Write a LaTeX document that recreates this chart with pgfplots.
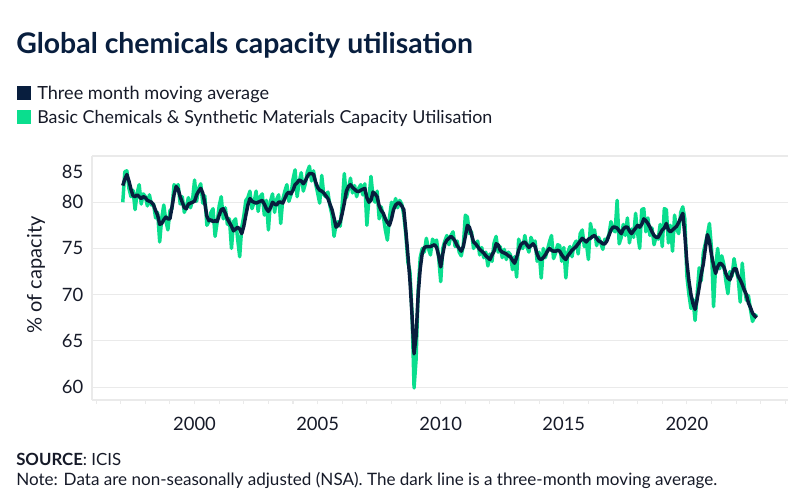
\documentclass[border=0pt]{standalone}
\usepackage{pgfplots}
\pgfplotsset{compat=1.18}
\usepackage{pgfplotstable}
\usepackage{fontspec}
\setmainfont{Lato}
\definecolor{navy}{RGB}{8,30,62}
\definecolor{mint}{RGB}{10,222,142}
\definecolor{gridc}{RGB}{234,234,234}
\definecolor{txt}{RGB}{22,26,40}

\pgfplotstableread{
m g a
0 80.0 81.8
1 83.3 82.5
2 83.4 83.0
3 81.5 82.3
4 80.6 81.4
5 81.3 80.7
6 79.2 80.6
7 81.0 80.8
8 81.9 80.6
9 79.8 80.4
10 80.9 80.6
11 80.6 80.5
12 79.6 80.2
13 80.8 80.1
14 79.7 80.0
15 79.8 79.7
16 78.3 79.1
17 78.9 78.6
18 75.7 77.6
19 78.3 77.7
20 79.7 78.1
21 78.0 78.4
22 77.0 78.2
23 79.1 78.2
24 79.3 79.5
25 81.9 80.8
26 81.6 81.7
27 81.9 81.4
28 79.8 80.6
29 80.6 80.0
30 78.9 79.4
31 79.5 79.3
32 80.5 79.8
33 79.4 79.9
34 80.2 80.0
35 82.4 80.1
36 80.1 80.8
37 81.5 81.2
38 82.0 81.5
39 79.9 81.0
40 80.7 79.9
41 77.5 78.5
42 77.9 78.0
43 78.9 78.1
44 79.3 77.9
45 76.3 78.0
46 77.8 77.9
47 79.6 78.6
48 80.6 79.2
49 78.2 79.3
50 79.4 78.8
51 77.6 78.2
52 78.2 77.8
53 75.0 77.4
54 77.9 76.9
55 78.2 77.1
56 76.0 77.3
57 74.1 77.1
58 77.3 76.6
59 78.5 77.4
60 80.2 78.6
61 80.5 79.7
62 81.2 80.4
63 79.3 80.1
64 80.0 80.0
65 81.2 79.9
66 79.0 80.0
67 80.6 80.1
68 80.9 80.2
69 78.6 79.8
70 80.2 79.3
71 77.0 79.0
72 80.1 79.4
73 80.9 80.0
74 78.9 79.8
75 80.3 79.7
76 80.8 80.0
77 77.7 80.0
78 80.3 79.9
79 81.2 80.4
80 81.9 80.9
81 80.1 81.1
82 80.8 80.9
83 82.5 81.3
84 83.5 81.9
85 80.6 82.1
86 82.2 82.4
87 83.2 82.3
88 81.2 82.0
89 82.0 82.3
90 83.3 82.8
91 83.9 83.1
92 82.3 83.1
93 83.4 83.0
94 82.0 82.2
95 81.0 81.6
96 79.9 81.3
97 82.9 81.2
98 80.8 81.0
99 80.6 80.7
100 81.1 80.4
101 79.6 79.8
102 78.6 79.2
103 76.3 78.3
104 77.6 77.3
105 77.9 77.5
106 77.4 77.9
107 79.8 78.8
108 83.1 79.9
109 80.5 81.2
110 81.4 81.7
111 82.6 81.9
112 81.0 81.6
113 81.8 81.4
114 80.6 81.2
115 81.5 81.15
116 81.9 81.3
117 80.8 81.4
118 82.0 81.5
119 77.5 80.5
120 80.4 80.0
121 82.8 80.2
122 80.6 81.1
123 80.0 80.9
124 81.2 80.6
125 78.2 79.6
126 79.5 79.1
127 78.5 78.8
128 77.0 78.2
129 75.9 77.8
130 78.3 77.5
131 80.0 78.2
132 79.5 79.2
133 80.4 79.7
134 79.4 79.9
135 80.2 79.9
136 79.8 79.6
137 78.6 79.2
138 76.5 76.9
139 73.5 74.3
140 72.5 71.5
141 68.0 67.8
142 59.9 63.6
143 63.0 65.5
144 70.5 70.0
145 74.0 72.8
146 75.0 74.5
147 74.6 75.1
148 76.1 75.2
149 75.0 75.2
150 74.3 75.2
151 76.0 75.3
152 75.6 75.4
153 75.9 75.1
154 74.0 74.2
155 71.4 73.0
156 75.0 74.4
157 75.8 75.5
158 76.4 75.9
159 75.4 76.1
160 76.4 76.3
161 76.8 76.1
162 75.2 75.8
163 75.8 75.3
164 74.6 75.0
165 74.2 74.7
166 75.3 75.2
167 78.6 76.3
168 78.4 77.5
169 76.6 77.3
170 76.8 76.5
171 75.0 75.7
172 75.5 75.5
173 75.8 75.2
174 74.3 74.9
175 75.1 74.7
176 74.0 74.5
177 74.6 74.2
178 73.1 74.0
179 74.4 73.8
180 73.6 74.3
181 75.6 74.7
182 76.3 75.5
183 74.6 75.4
184 75.2 74.8
185 74.0 74.6
186 74.9 74.5
187 73.8 74.4
188 74.6 74.2
189 74.3 74.1
190 72.7 73.7
191 74.1 73.4
192 71.9 74.0
193 76.0 74.8
194 75.3 75.4
195 75.0 75.6
196 76.4 75.7
197 75.2 75.4
198 74.6 75.1
199 76.2 75.3
200 75.6 75.5
201 75.8 75.2
202 73.6 74.4
203 74.6 73.9
204 71.8 73.8
205 75.0 74.0
206 74.0 74.3
207 74.8 74.7
208 75.7 75.0
209 76.4 74.8
210 73.9 74.7
211 74.5 74.7
212 75.4 74.8
213 75.3 74.7
214 73.6 74.3
215 75.1 74.0
216 71.8 73.8
217 74.6 74.2
218 75.2 74.5
219 74.1 74.8
220 75.4 75.0
221 75.8 75.2
222 74.4 75.5
223 76.6 75.8
224 77.0 76.1
225 75.2 75.9
226 75.6 75.7
227 73.8 76.0
228 77.7 76.1
229 76.6 76.3
230 77.0 76.4
231 75.3 76.1
232 76.2 75.8
233 75.6 75.7
234 74.9 75.5
235 76.0 75.5
236 75.9 75.8
237 76.5 76.4
238 77.9 77.0
239 77.0 77.3
240 76.8 77.3
241 80.2 77.2
242 75.5 76.9
243 76.2 76.6
244 77.6 77.1
245 76.4 77.3
246 78.3 77.3
247 75.6 76.9
248 77.1 76.6
249 76.2 76.9
250 78.8 77.2
251 76.6 77.5
252 75.0 77.3
253 79.2 77.6
254 79.3 78.2
255 76.8 78.0
256 78.3 77.7
257 76.4 77.3
258 77.2 76.8
259 75.4 76.4
260 76.3 76.2
261 76.0 76.2
262 77.6 76.6
263 75.2 77.0
264 79.3 77.2
265 79.2 77.7
266 75.6 77.0
267 77.5 76.8
268 74.7 77.0
269 78.6 77.2
270 77.1 77.4
271 76.6 77.8
272 78.9 78.3
273 79.5 78.8
274 78.2 76.5
275 72.0 73.5
276 70.0 71.5
277 68.5 70.0
278 69.5 69.0
279 67.2 68.4
280 70.0 69.5
281 72.9 70.8
282 71.5 72.2
283 74.5 73.3
284 75.5 75.0
285 76.5 76.5
286 77.7 75.8
287 75.0 74.3
288 68.7 73.2
289 73.0 72.3
290 75.0 73.0
291 72.8 73.4
292 74.2 73.3
293 73.3 73.0
294 71.5 72.3
295 70.1 71.8
296 72.5 71.6
297 72.0 72.3
298 73.9 72.8
299 72.6 72.8
300 71.8 72.0
301 69.2 71.6
302 73.4 71.1
303 70.8 70.5
304 69.4 70.0
305 69.9 69.1
306 68.4 68.6
307 67.1 68.0
308 67.6 67.7
309 67.9 67.5
}\datatable

\begin{document}
\begin{tikzpicture}[x=0.75pt,y=-0.75pt]
\path[use as bounding box] (0,0) rectangle (800,500);
\node[anchor=base west, font=\fontsize{21.3}{24}\selectfont\bfseries, text=navy, inner sep=0] at (16,53) {Global chemicals capacity utilisation};
\fill[navy] (17,86) rectangle (31,100);
\node[anchor=base west, font=\fontsize{13.6}{15}\selectfont, text=txt, inner sep=0] at (37,99.5) {Three month moving average};
\fill[mint] (17,110) rectangle (31,124);
\node[anchor=base west, font=\fontsize{13.4}{15}\selectfont, text=txt, inner sep=0] at (37,123.5) {Basic Chemicals \& Synthetic Materials Capacity Utilisation};
\node[rotate=90, anchor=center, font=\fontsize{15}{17}\selectfont, text=txt, inner sep=0] at (36,275) {\% of capacity};
\node[anchor=base west, font=\fontsize{12.6}{14}\selectfont, text=txt, inner sep=0] at (16,465) {\textbf{SOURCE}: ICIS};
\node[anchor=base west, font=\fontsize{12.8}{14}\selectfont, text=txt, inner sep=0] at (16,485) {Note: Data are non-seasonally adjusted (NSA). The dark line is a three-month moving average.};
\begin{axis}[
  at={(69pt,-300pt)}, anchor=south west,
  width=522pt, height=183pt, scale only axis,
  xmin=-15, xmax=324.3, ymin=58.6, ymax=85,
  axis x line*=bottom, axis y line*=left,
  axis line style={draw=gridc, line width=0.8pt},
  xtick={35,95,155,215,275},
  xticklabels={2000,2005,2010,2015,2020},
  minor xtick={-13,-1,...,323},
  tick align=outside,
  major tick length=3pt, minor tick length=3pt,
  x tick style={draw=gridc, line width=0.8pt},
  y tick style={draw=none},
  ytick={60,65,70,75,80,85},
  yticklabels={60,65,70,75,80,\smash{\raisebox{-17pt}{85}}},
  ymajorgrids,
  grid style={draw=gridc, line width=0.8pt},
  ticklabel style={font=\fontsize{13.8}{15}\selectfont, text=txt},
  x tick label style={yshift=-6pt},
  /pgf/number format/assume math mode=true,
  clip=false,
]
\addplot[mint, line width=2.6pt, line join=round] table[x=m, y=g] {\datatable};
\addplot[navy, line width=2.6pt, line join=round] table[x=m, y=a] {\datatable};
\end{axis}
\end{tikzpicture}
\end{document}
